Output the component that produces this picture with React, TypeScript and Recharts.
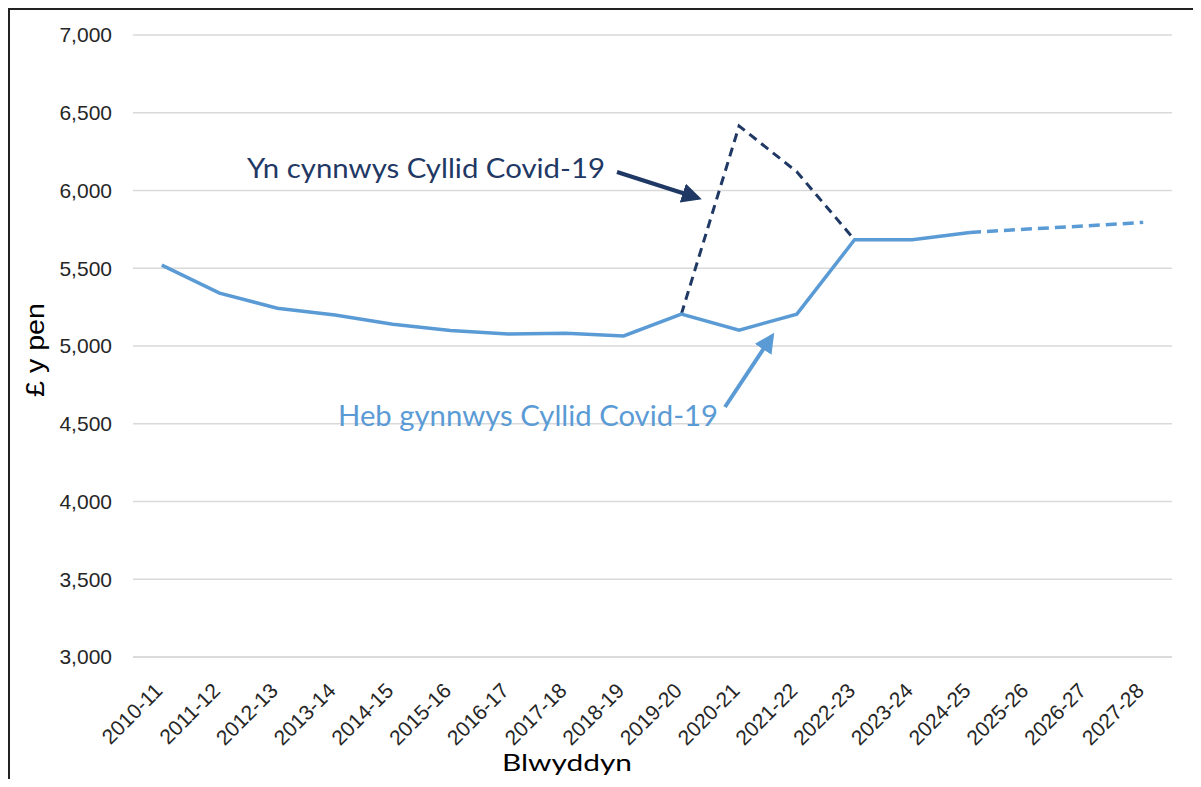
import React from "react";
import { LineChart, Line, XAxis, YAxis, CartesianGrid } from "recharts";

const years: string[] = [
  "2010-11", "2011-12", "2012-13", "2013-14", "2014-15", "2015-16",
  "2016-17", "2017-18", "2018-19", "2019-20", "2020-21", "2021-22",
  "2022-23", "2023-24", "2024-25", "2025-26", "2026-27", "2027-28",
];
// heb gynnwys cyllid covid-19 (solid)
const withoutCovid: (number | null)[] = [
  5520, 5340, 5243, 5200, 5140, 5100, 5077, 5082, 5065, 5205, 5102, 5205,
  5683, 5683, 5730, null, null, null,
];
// projection (dashed light blue)
const projected: (number | null)[] = [
  null, null, null, null, null, null, null, null, null, null, null, null,
  null, null, 5730, 5752, 5772, 5795,
];
// yn cynnwys cyllid covid-19 (dashed dark)
const withCovid: (number | null)[] = [
  null, null, null, null, null, null, null, null, null, 5205, 6415, 6120,
  5683, null, null, null, null, null,
];
const yTicks: number[] = [3000, 3500, 4000, 4500, 5000, 5500, 6000, 6500, 7000];

const data = years.map((year, i) => ({
  year,
  without: withoutCovid[i],
  projected: projected[i],
  withCovid: withCovid[i],
}));

const LIGHT = "#5B9BD5";
const DARK = "#1F3864";

const XTick = (props: any) => {
  const { x, y, payload } = props;
  return (
    <g transform={`translate(${x + 2},${y + 35}) rotate(-45)`}>
      <text
        x={0}
        y={0}
        textAnchor="end"
        fontSize={21}
        fill="#262626"
        fontFamily="'Liberation Sans', Arial, sans-serif"
      >
        {payload.value}
      </text>
    </g>
  );
};

const App = () => {
  return (
    <>
      <style>{`html, body { overflow: hidden; }`}</style>
      <div
        style={{
          position: "relative",
          borderTop: "2px solid #222",
          borderLeft: "2px solid #222",
          width: 1183,
          height: 777,
          marginBottom: -8,
        }}
      >
        <LineChart
          width={1183}
          height={777}
          data={data}
          margin={{ top: 25, right: 21, left: 23, bottom: 30 }}
        >
          <CartesianGrid vertical={false} stroke="#D9D9D9" strokeWidth={1.5} />
          <XAxis
            dataKey="year"
            interval={0}
            padding={{ left: 28.8, right: 28.8 }}
            axisLine={{ stroke: "#D9D9D9", strokeWidth: 1.5 }}
            tickLine={false}
            tickSize={0}
            tickMargin={0}
            height={100}
            tick={<XTick />}
          />
          <YAxis
            domain={[3000, 7000]}
            ticks={yTicks}
            width={100}
            axisLine={false}
            tickLine={false}
            tickSize={0}
            tickMargin={21}
            tickFormatter={(v: number) => v.toLocaleString("en-GB")}
            tick={{
              fontSize: 21,
              fill: "#262626",
              fontFamily: "'Liberation Sans', Arial, sans-serif",
            }}
          />
          <Line
            dataKey="withCovid"
            stroke={DARK}
            strokeWidth={3}
            strokeDasharray="9 6"
            dot={false}
            isAnimationActive={false}
            connectNulls={false}
          />
          <Line
            dataKey="projected"
            stroke={LIGHT}
            strokeWidth={3.5}
            strokeDasharray="11 6"
            dot={false}
            isAnimationActive={false}
          />
          <Line
            dataKey="without"
            stroke={LIGHT}
            strokeWidth={3.5}
            dot={false}
            isAnimationActive={false}
          />
        </LineChart>
        <svg
          width={1185}
          height={779}
          style={{ position: "absolute", left: -2, top: -2, pointerEvents: "none" }}
        >
          <defs>
            <marker id="arrDark" markerWidth="5" markerHeight="5" refX="4" refY="2.5" orient="auto" markerUnits="strokeWidth">
              <path d="M0,0 L5,2.5 L0,5 Z" fill={DARK} />
            </marker>
            <marker id="arrLight" markerWidth="5" markerHeight="5" refX="4" refY="2.5" orient="auto" markerUnits="strokeWidth">
              <path d="M0,0 L5,2.5 L0,5 Z" fill={LIGHT} />
            </marker>
          </defs>
          <g transform="translate(-8,-8)">
            <text
              x={247}
              y={178}
              fontSize={26}
              fill={DARK}
              fontFamily="Lato, 'Open Sans', sans-serif"
              textLength={358}
              lengthAdjust="spacingAndGlyphs"
            >
              Yn cynnwys Cyllid Covid-19
            </text>
            <line x1={617} y1={172} x2={698} y2={198} stroke={DARK} strokeWidth={4} markerEnd="url(#arrDark)" />
            <text
              x={338}
              y={426}
              fontSize={28}
              fill={LIGHT}
              fontFamily="Lato, 'Open Sans', sans-serif"
              textLength={380}
              lengthAdjust="spacingAndGlyphs"
            >
              Heb gynnwys Cyllid Covid-19
            </text>
            <line x1={725} y1={407} x2={772} y2={336} stroke={LIGHT} strokeWidth={4} markerEnd="url(#arrLight)" />
            <text
              x={502}
              y={771}
              fontSize={24}
              fill="#000"
              fontFamily="Lato, 'Open Sans', sans-serif"
              textLength={130}
              lengthAdjust="spacingAndGlyphs"
            >
              Blwyddyn
            </text>
            <text
              x={0}
              y={0}
              transform="translate(44,397) rotate(-90)"
              fontSize={26}
              fill="#000"
              fontFamily="'Liberation Sans', Arial, sans-serif"
              textLength={94}
              lengthAdjust="spacingAndGlyphs"
            >
              £ y pen
            </text>
          </g>
        </svg>
      </div>
    </>
  );
};

export default App;
